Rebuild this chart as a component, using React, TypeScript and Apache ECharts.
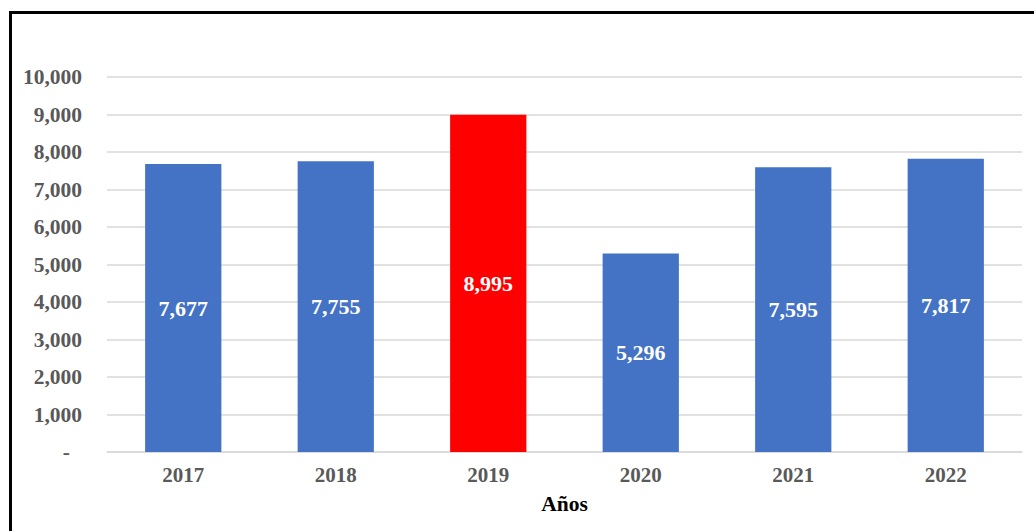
import React, { useEffect, useRef } from "react";
import * as echarts from "echarts";

const categories = ["2017", "2018", "2019", "2020", "2021", "2022"];
const values = [7677, 7755, 8995, 5296, 7595, 7817];
const barColors = ["#4472C4", "#4472C4", "#FF0000", "#4472C4", "#4472C4", "#4472C4"];
const yTicks = [0, 1000, 2000, 3000, 4000, 5000, 6000, 7000, 8000, 9000, 10000];

const fmt = (v: number) => (v === 0 ? "-" : v.toLocaleString("en-US"));
const serif = "Liberation Serif";

export default function App() {
  const ref = useRef<HTMLDivElement>(null);
  useEffect(() => {
    document.body.style.margin = "0";
    const chart = echarts.init(ref.current!, null, { renderer: "svg" });
    chart.setOption({
      animation: false,
      backgroundColor: "#fff",
      graphic: [
        {
          type: "rect",
          shape: { x: 10.5, y: 12.5, width: 1040, height: 540 },
          style: { fill: "none", stroke: "#000", lineWidth: 3 },
          silent: true,
        },
      ],
      grid: { left: 107, right: 12, top: 77, bottom: 79 },
      xAxis: {
        type: "category",
        data: categories,
        axisLine: { show: true, lineStyle: { color: "#D9D9D9", width: 1.5 } },
        axisTick: { show: false },
        axisLabel: {
          color: "#595959",
          fontFamily: serif,
          fontWeight: "bold",
          fontSize: 21,
          margin: 12,
        },
        name: "Años",
        nameLocation: "middle",
        nameGap: 41,
        nameTextStyle: {
          color: "#000",
          fontFamily: serif,
          fontWeight: "bold",
          fontSize: 21.5,
        },
      },
      yAxis: {
        type: "value",
        min: yTicks[0],
        max: yTicks[yTicks.length - 1],
        interval: 1000,
        axisLine: { show: false },
        axisTick: { show: false },
        splitLine: { lineStyle: { color: "#D9D9D9", width: 1.5 } },
        axisLabel: {
          color: "#595959",
          fontFamily: serif,
          fontWeight: "bold",
          fontSize: 21.5,
          margin: 25,
          formatter: (v: number) => (v === 0 ? "{dash|-}" : fmt(v)),
          rich: {
            dash: {
              color: "#595959",
              fontFamily: serif,
              fontWeight: "bold",
              fontSize: 21.5,
              padding: [0, 12, 0, 0],
            },
          },
        },
      },
      series: [
        {
          type: "bar",
          barWidth: "50%",
          data: values.map((v, i) => ({ value: v, itemStyle: { color: barColors[i] } })),
          label: {
            show: true,
            position: "inside",
            color: "#fff",
            fontFamily: serif,
            fontWeight: "bold",
            fontSize: 22,
            formatter: (p: any) => fmt(p.value),
          },
        },
      ],
    });
    return () => chart.dispose();
  }, []);
  return <div ref={ref} style={{ width: 1034, height: 531 }} />;
}
